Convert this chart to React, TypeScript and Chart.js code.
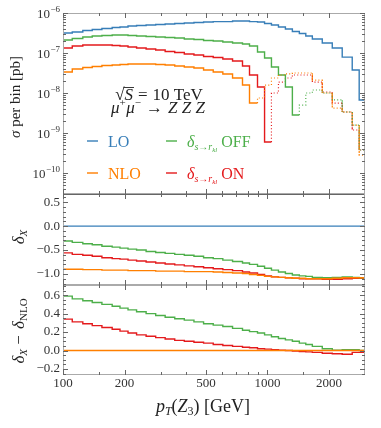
import React, { useEffect, useRef } from "react";
import { Chart, registerables } from "chart.js";

Chart.register(...registerables);

const FONT = '"Liberation Serif", "DejaVu Serif", serif';

// bin edges in GeV (pT(Z3))
const binEdges = [100, 111, 125, 139, 155, 174, 190, 208, 229, 255, 284, 316, 352, 392, 437, 487, 543, 605, 675, 755, 817, 894, 968, 1046, 1132, 1224, 1324, 1432, 1540, 1658, 1854, 2075, 2321, 2598, 2810, 3000];

// top panel: sigma per bin [pb] (negative => drawn dotted as |value|)
const sigmaLO = [3.16e-7, 3.35e-7, 3.65e-7, 3.87e-7, 4.1e-7, 4.34e-7, 4.47e-7, 4.73e-7, 4.87e-7, 5.0e-7, 5.15e-7, 5.3e-7, 5.45e-7, 5.6e-7, 5.8e-7, 5.95e-7, 6.1e-7, 6.1e-7, 6.3e-7, 6.3e-7, 6.1e-7, 5.95e-7, 5.45e-7, 5.0e-7, 4.47e-7, 3.98e-7, 3.45e-7, 3.07e-7, 2.66e-7, 2.24e-7, 1.78e-7, 1.33e-7, 7.9e-8, 3.76e-8, 6.7e-9];
const sigmaNLO = [3.35e-8, 3.98e-8, 4.34e-8, 4.6e-8, 4.87e-8, 5.0e-8, 5.15e-8, 5.3e-8, 5.3e-8, 5.3e-8, 5.15e-8, 5.0e-8, 4.73e-8, 4.47e-8, 4.22e-8, 3.76e-8, 3.35e-8, 2.99e-8, 2.37e-8, 1.58e-8, 5.6e-9, -7.5e-9, -1.58e-8, -2.37e-8, -2.82e-8, -2.99e-8, -3.16e-8, -3.16e-8, -3.16e-8, -2.11e-8, -1.0e-8, -4.2e-9, -3.35e-9, -1.58e-9, -2.8e-10];
const sigmaOFF = [2.11e-7, 2.3e-7, 2.51e-7, 2.66e-7, 2.74e-7, 2.82e-7, 2.82e-7, 2.74e-7, 2.66e-7, 2.59e-7, 2.51e-7, 2.44e-7, 2.37e-7, 2.24e-7, 2.17e-7, 2.05e-7, 2.0e-7, 1.88e-7, 1.78e-7, 1.68e-7, 1.5e-7, 1.06e-7, 7.5e-8, 4.47e-8, 2.82e-8, 1.41e-8, 2.82e-9, -5.0e-9, -1.0e-8, -1.19e-8, -1.0e-8, -6.7e-9, -3.35e-9, -1.58e-9, -3.76e-10];
const sigmaON = [1.33e-7, 1.5e-7, 1.58e-7, 1.58e-7, 1.58e-7, 1.54e-7, 1.5e-7, 1.41e-7, 1.33e-7, 1.26e-7, 1.19e-7, 1.09e-7, 1.03e-7, 9.44e-8, 8.9e-8, 8.2e-8, 7.7e-8, 7.08e-8, 6.3e-8, 4.73e-8, 2.82e-8, 1.41e-8, 5.96e-10, -1.0e-8, -1.88e-8, -2.37e-8, -2.82e-8, -2.82e-8, -2.82e-8, -1.88e-8, -1.06e-8, -5.6e-9, -3.35e-9, -1.19e-9, -3.76e-10];

// middle panel: delta_X
const deltaLO = [0, 0, 0, 0, 0, 0, 0, 0, 0, 0, 0, 0, 0, 0, 0, 0, 0, 0, 0, 0, 0, 0, 0, 0, 0, 0, 0, 0, 0, 0, 0, 0, 0, 0, 0];
const deltaNLO = [-0.90, -0.90, -0.91, -0.91, -0.92, -0.92, -0.92, -0.93, -0.93, -0.93, -0.94, -0.94, -0.94, -0.95, -0.95, -0.95, -0.96, -0.97, -0.98, -0.99, -1.01, -1.03, -1.05, -1.06, -1.07, -1.08, -1.09, -1.09, -1.10, -1.10, -1.10, -1.09, -1.08, -1.08, -1.08];
const deltaOFF = [-0.31, -0.34, -0.37, -0.39, -0.42, -0.44, -0.46, -0.48, -0.50, -0.53, -0.55, -0.57, -0.59, -0.61, -0.63, -0.66, -0.68, -0.71, -0.74, -0.77, -0.80, -0.84, -0.88, -0.92, -0.96, -0.99, -1.02, -1.04, -1.05, -1.07, -1.08, -1.07, -1.06, -1.07, -1.08];
const deltaON = [-0.56, -0.59, -0.61, -0.63, -0.66, -0.68, -0.69, -0.71, -0.73, -0.75, -0.77, -0.79, -0.81, -0.83, -0.85, -0.87, -0.89, -0.91, -0.93, -0.96, -0.98, -1.01, -1.04, -1.06, -1.07, -1.08, -1.09, -1.10, -1.10, -1.10, -1.11, -1.11, -1.10, -1.09, -1.09];

// bottom panel: delta_X - delta_NLO
const diffNLO = [0, 0, 0, 0, 0, 0, 0, 0, 0, 0, 0, 0, 0, 0, 0, 0, 0, 0, 0, 0, 0, 0, 0, 0, 0, 0, 0, 0, 0, 0, 0, 0, 0, 0, 0];
const diffOFF = [0.59, 0.56, 0.54, 0.52, 0.50, 0.48, 0.46, 0.44, 0.42, 0.40, 0.38, 0.36, 0.345, 0.33, 0.31, 0.29, 0.275, 0.26, 0.24, 0.22, 0.205, 0.19, 0.17, 0.15, 0.13, 0.115, 0.10, 0.08, 0.065, 0.045, 0.02, 0.005, 0.01, 0.01, 0.0];
const diffON = [0.34, 0.31, 0.29, 0.27, 0.25, 0.23, 0.21, 0.19, 0.17, 0.155, 0.14, 0.125, 0.11, 0.10, 0.09, 0.08, 0.065, 0.055, 0.045, 0.035, 0.03, 0.02, 0.015, 0.01, 0.005, 0.0, -0.005, -0.01, -0.015, -0.02, -0.03, -0.035, -0.04, -0.02, -0.02];

// ticks
const xMajorTicks = [100, 200, 500, 1000, 2000];
const xMinorTicks = [150, 300, 400, 600, 700, 800, 900, 1500];
const topYMajor = [1e-10, 1e-9, 1e-8, 1e-7, 1e-6];
const midYMajor = [-1.0, -0.5, 0.0, 0.5];
const botYMajor = [-0.2, 0.0, 0.2, 0.4, 0.6];

const C_LO = "#377eb8";
const C_NLO = "#ff7f00";
const C_OFF = "#4daf4a";
const C_ON = "#e41a1c";

type Run = { t: string; size: number; italic?: boolean; dy?: number; pad?: number };

function drawRich(ctx: CanvasRenderingContext2D, runs: Run[], x: number, y: number, align: "left" | "center" | "right", color: string, rot = 0) {
  ctx.save();
  ctx.translate(x, y);
  if (rot) ctx.rotate(rot);
  ctx.textBaseline = "alphabetic";
  ctx.textAlign = "left";
  ctx.fillStyle = color;
  const font = (r: Run) => `${r.italic ? "italic " : ""}${r.size}px ${FONT}`;
  let total = 0;
  const widths = runs.map((r) => {
    ctx.font = font(r);
    const w = ctx.measureText(r.t).width + (r.pad || 0);
    total += w;
    return w;
  });
  let cx = align === "left" ? 0 : align === "center" ? -total / 2 : -total;
  const pos: { x: number; w: number }[] = [];
  runs.forEach((r, i) => {
    ctx.font = font(r);
    ctx.fillText(r.t, cx, r.dy || 0);
    pos.push({ x: x + cx, w: widths[i] });
    cx += widths[i];
  });
  ctx.restore();
  return pos;
}

function isNegSeg(vals: number[], i: number) {
  const k = Math.floor(i / 2);
  return i % 2 === 0 ? vals[k] < 0 : vals[k] < 0 || (k + 1 < vals.length && vals[k + 1] < 0);
}

function histDataset(vals: number[], color: string, dashNegative: boolean) {
  const data: { x: number; y: number }[] = [];
  vals.forEach((v, k) => {
    const y = dashNegative ? Math.abs(v) : v;
    data.push({ x: binEdges[k], y }, { x: binEdges[k + 1], y });
  });
  return {
    data,
    borderColor: color,
    backgroundColor: color,
    borderWidth: 1.4,
    pointRadius: 0,
    fill: false,
    tension: 0,
    segment: {
      borderDash: (c: any) => (dashNegative && isNegSeg(vals, c.p0DataIndex) ? [1, 2.2] : undefined),
      borderWidth: (c: any) => (dashNegative && isNegSeg(vals, c.p0DataIndex) ? 1.2 : undefined),
    },
  };
}

type FrameCfg = {
  yMajor: number[];
  yMinor: number[];
  yLabel: (ctx: CanvasRenderingContext2D, v: number, x: number, y: number) => void;
  topColor: string;
  xLabels?: boolean;
  extra?: (ctx: CanvasRenderingContext2D, chart: any) => void;
};

function framePlugin(cfg: FrameCfg) {
  return {
    id: "frame",
    afterDraw(chart: any) {
      const ctx: CanvasRenderingContext2D = chart.ctx;
      const a = chart.chartArea;
      const xs = chart.scales.x;
      const ys = chart.scales.y;
      const L = Math.round(a.left), R = Math.round(a.right), T = Math.round(a.top), B = Math.round(a.bottom);
      ctx.save();
      ctx.lineWidth = 1;
      const line = (x1: number, y1: number, x2: number, y2: number, c: string) => {
        ctx.strokeStyle = c;
        ctx.beginPath();
        ctx.moveTo(x1, y1);
        ctx.lineTo(x2, y2);
        ctx.stroke();
      };
      const frameC = "#aaaaaa";
      const tickC = "#666666";
      line(L, T + 0.5, R, T + 0.5, cfg.topColor);
      line(L, B - 0.5, R, B - 0.5, frameC);
      line(L + 0.5, T, L + 0.5, B, frameC);
      line(R - 0.5, T, R - 0.5, B, frameC);
      const xt = (v: number, len: number) => {
        const p = Math.round(xs.getPixelForValue(v)) + 0.5;
        if (p < L || p > R) return;
        line(p, T, p, T + len, tickC);
        line(p, B, p, B - len, tickC);
      };
      xMajorTicks.forEach((v) => xt(v, 5));
      xMinorTicks.forEach((v) => xt(v, 3));
      const yt = (v: number, len: number) => {
        const p = Math.round(ys.getPixelForValue(v)) + 0.5;
        if (p < T || p > B) return;
        line(L, p, L + len, p, tickC);
        line(R, p, R - len, p, tickC);
      };
      cfg.yMajor.forEach((v) => yt(v, 5));
      cfg.yMinor.forEach((v) => yt(v, 3));
      ctx.fillStyle = "#333";
      cfg.yMajor.forEach((v) => {
        const p = ys.getPixelForValue(v);
        cfg.yLabel(ctx, v, L - 3, p);
      });
      if (cfg.xLabels) {
        ctx.font = `13px ${FONT}`;
        ctx.textAlign = "center";
        ctx.textBaseline = "middle";
        ctx.fillStyle = "#333";
        xMajorTicks.forEach((v) => {
          ctx.fillText(String(v), xs.getPixelForValue(v), B + 9);
        });
      }
      if (cfg.extra) cfg.extra(ctx, chart);
      ctx.restore();
    },
  };
}

function linLabel(ctx: CanvasRenderingContext2D, v: number, x: number, y: number) {
  ctx.font = `13px ${FONT}`;
  ctx.textAlign = "right";
  ctx.textBaseline = "middle";
  ctx.fillStyle = "#333";
  const s = Math.abs(v) < 1e-9 ? "0.0" : (v < 0 ? "\u2212" : "") + Math.abs(v).toFixed(1);
  ctx.fillText(s, x, y);
}

function powLabel(ctx: CanvasRenderingContext2D, v: number, x: number, y: number) {
  const e = Math.round(Math.log10(v));
  ctx.textBaseline = "alphabetic";
  ctx.textAlign = "left";
  ctx.fillStyle = "#333";
  ctx.font = `13px ${FONT}`;
  const wb = ctx.measureText("10").width;
  const sup = (e < 0 ? "\u2212" : "") + Math.abs(e);
  ctx.font = `9px ${FONT}`;
  const ws = ctx.measureText(sup).width;
  const x0 = x - wb - ws - 0.5;
  ctx.font = `13px ${FONT}`;
  ctx.fillText("10", x0, y + 5);
  ctx.font = `9px ${FONT}`;
  ctx.fillText(sup, x0 + wb + 0.5, y - 1);
}

function baseOptions(padding: any, yScale: any) {
  return {
    responsive: false,
    animation: false as const,
    events: [] as any[],
    layout: { padding },
    plugins: { legend: { display: false }, tooltip: { enabled: false }, title: { display: false } },
    scales: {
      x: { type: "logarithmic" as const, min: 100, max: 3000, display: false },
      y: { ...yScale, display: false },
    },
    elements: { point: { radius: 0 }, line: { tension: 0 } },
  };
}

function topMinor() {
  const out: number[] = [];
  for (let d = -11; d <= -7; d++) for (let m = 2; m <= 9; m++) out.push(m * Math.pow(10, d));
  return out;
}
function stepTicks(lo: number, hi: number, step: number, majorStep: number) {
  const out: number[] = [];
  const n = Math.round((hi - lo) / step);
  for (let i = 0; i <= n; i++) {
    const v = Math.round((lo + i * step) * 1000) / 1000;
    const r = v / majorStep;
    if (Math.abs(r - Math.round(r)) > 1e-6) out.push(v);
  }
  return out;
}

export default function App() {
  const r1 = useRef<HTMLCanvasElement>(null);
  const r2 = useRef<HTMLCanvasElement>(null);
  const r3 = useRef<HTMLCanvasElement>(null);

  useEffect(() => {
    const top = new Chart(r1.current as HTMLCanvasElement, {
      type: "line",
      data: {
        datasets: [
          histDataset(sigmaLO, C_LO, true),
          histDataset(sigmaNLO, C_NLO, true),
          histDataset(sigmaOFF, C_OFF, true),
          histDataset(sigmaON, C_ON, true),
        ] as any,
      },
      options: baseOptions({ left: 63, right: 16, top: 13, bottom: 1 }, { type: "logarithmic", min: 2.985e-11, max: 1e-6 }) as any,
      plugins: [
        framePlugin({
          yMajor: topYMajor,
          yMinor: topMinor(),
          yLabel: powLabel,
          topColor: "#aaaaaa",
          extra: (ctx) => {
            drawRich(ctx, [{ t: "\u03c3", size: 15, italic: true }, { t: " per bin [pb]", size: 15 }], 20, 97, "center", "#222", -Math.PI / 2);
            const p = drawRich(
              ctx,
              [
                { t: "\u221a", size: 17 },
                { t: "S", size: 17, italic: true, pad: 5 },
                { t: "=", size: 17, pad: 5 },
                { t: "10 TeV", size: 17 },
              ],
              159,
              100,
              "center",
              "#222"
            );
            ctx.strokeStyle = "#222";
            ctx.lineWidth = 0.9;
            ctx.beginPath();
            ctx.moveTo(p[0].x + p[0].w - 1, 87.5);
            ctx.lineTo(p[1].x + p[1].w - 4, 87.5);
            ctx.stroke();
            drawRich(
              ctx,
              [
                { t: "\u03bc", size: 17, italic: true },
                { t: "+", size: 11, dy: -7, pad: 0.5 },
                { t: "\u03bc", size: 17, italic: true },
                { t: "\u2212", size: 11, dy: -7, pad: 5 },
                { t: "\u2192", size: 17, pad: 5 },
                { t: "Z Z Z", size: 17, italic: true },
              ],
              158,
              113,
              "center",
              "#222"
            );
            const leg = (lx: number, ly: number, color: string, runs: Run[]) => {
              ctx.strokeStyle = color;
              ctx.lineWidth = 1.4;
              ctx.beginPath();
              ctx.moveTo(lx, ly);
              ctx.lineTo(lx + 11, ly);
              ctx.stroke();
              drawRich(ctx, runs, lx + 21, ly + 6, "left", color);
            };
            leg(87, 141, C_LO, [{ t: "LO", size: 16 }]);
            leg(87, 173, C_NLO, [{ t: "NLO", size: 16 }]);
            const dl = (s: string): Run[] => [
              { t: "\u03b4", size: 16, italic: true },
              { t: "s\u2192r", size: 10, italic: true, dy: 3 },
              { t: "kl", size: 7, italic: true, dy: 5 },
              { t: " " + s, size: 16 },
            ];
            leg(166, 141, C_OFF, dl("OFF"));
            leg(166, 173, C_ON, dl("ON"));
          },
        }),
      ],
    } as any);

    const mid = new Chart(r2.current as HTMLCanvasElement, {
      type: "line",
      data: {
        datasets: [
          histDataset(deltaLO, C_LO, false),
          histDataset(deltaNLO, C_NLO, false),
          histDataset(deltaOFF, C_OFF, false),
          histDataset(deltaON, C_ON, false),
        ] as any,
      },
      options: baseOptions({ left: 63, right: 16, top: 5, bottom: 5 }, { type: "linear", min: -1.23, max: 0.67 }) as any,
      plugins: [
        framePlugin({
          yMajor: midYMajor,
          yMinor: stepTicks(-1.2, 0.6, 0.1, 0.5),
          yLabel: linLabel,
          topColor: "#666666",
          extra: (ctx) => {
            drawRich(ctx, [{ t: "\u03b4", size: 17, italic: true }, { t: "X", size: 11, italic: true, dy: 3 }], 24, 48, "center", "#222", -Math.PI / 2);
          },
        }),
      ],
    } as any);

    const bot = new Chart(r3.current as HTMLCanvasElement, {
      type: "line",
      data: {
        datasets: [
          histDataset(diffNLO, C_NLO, false),
          histDataset(diffOFF, C_OFF, false),
          histDataset(diffON, C_ON, false),
        ] as any,
      },
      options: baseOptions({ left: 63, right: 16, top: 5, bottom: 53 }, { type: "linear", min: -0.265, max: 0.71 }) as any,
      plugins: [
        framePlugin({
          yMajor: botYMajor,
          yMinor: stepTicks(-0.25, 0.7, 0.05, 0.2),
          yLabel: linLabel,
          topColor: "#aaaaaa",
          xLabels: true,
          extra: (ctx) => {
            drawRich(
              ctx,
              [
                { t: "\u03b4", size: 17, italic: true },
                { t: "X", size: 11, italic: true, dy: 3 },
                { t: " \u2212 ", size: 17, pad: 2 },
                { t: "\u03b4", size: 17, italic: true },
                { t: "NLO", size: 11, dy: 3 },
              ],
              24,
              51,
              "center",
              "#222",
              -Math.PI / 2
            );
            drawRich(
              ctx,
              [
                { t: "p", size: 18, italic: true },
                { t: "T", size: 12, italic: true, dy: 3 },
                { t: "(", size: 18 },
                { t: "Z", size: 18, italic: true },
                { t: "3", size: 12, dy: 3 },
                { t: ")", size: 18 },
                { t: " [GeV]", size: 18 },
              ],
              203,
              132,
              "center",
              "#222"
            );
          },
        }),
      ],
    } as any);

    return () => {
      top.destroy();
      mid.destroy();
      bot.destroy();
    };
  }, []);

  return (
    <div style={{ position: "absolute", left: 0, top: 0, width: 381, height: 428, background: "#fff" }}>
      <canvas ref={r1} width={381} height={195} style={{ position: "absolute", left: 0, top: 0 }} />
      <canvas ref={r2} width={381} height={101} style={{ position: "absolute", left: 0, top: 189 }} />
      <canvas ref={r3} width={381} height={148} style={{ position: "absolute", left: 0, top: 280 }} />
    </div>
  );
}
